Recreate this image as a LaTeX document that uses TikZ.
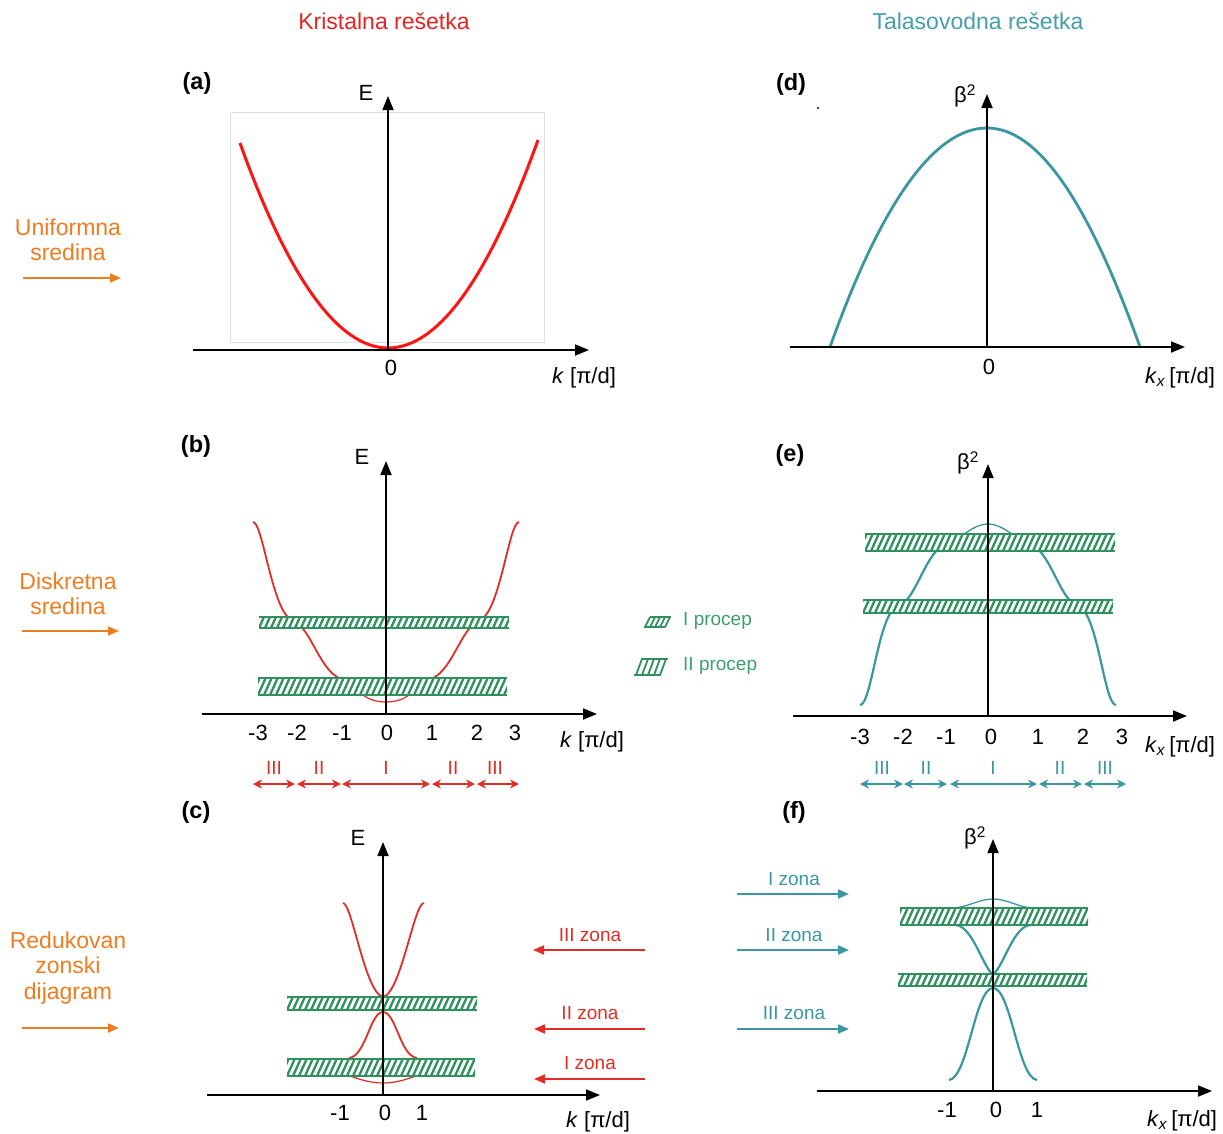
\documentclass[tikz,border=0pt]{standalone}
\usepackage{fontspec}
\setmainfont{Liberation Sans}
\usetikzlibrary{arrows.meta}
\definecolor{myred}{RGB}{224,45,38}
\definecolor{brightred}{RGB}{255,20,20}
\definecolor{titlered}{RGB}{226,38,38}
\definecolor{myteal}{RGB}{58,150,162}
\definecolor{titleteal}{RGB}{70,158,170}
\definecolor{mygreen}{RGB}{48,145,95}
\definecolor{lgreen}{RGB}{60,160,110}
\definecolor{myorange}{RGB}{238,125,34}

\newcommand{\hatchband}[4]{%
  \fill[white] (#1,#2) rectangle (#3,#4);
  \begin{scope}
    \clip (#1,#2) rectangle (#3,#4);
    \foreach \i in {0,...,50} {
      \pgfmathsetmacro{\xa}{#1-12+\i*6}
      \pgfmathsetmacro{\xb}{\xa+0.45*(#4-#2)}
      \draw[hatchline] (\xa,#4) -- (\xb,#2);
    }
  \end{scope}
  \draw[bandedge] (#1,#2) -- (#3,#2);
  \draw[bandedge] (#1,#4) -- (#3,#4);
}

\begin{document}
\begin{tikzpicture}[x=1pt,y=-1pt,
  axis/.style={line width=1.8pt,-{Triangle[length=14pt,width=11pt]}},
  redcurve/.style={draw=myred,line width=1.8pt},
  thinred/.style={draw=myred,line width=1.2pt},
  tealcurve/.style={draw=myteal,line width=2.2pt},
  thinteal/.style={draw=myteal,line width=1.3pt},
  hatchline/.style={draw=mygreen,line width=2.3pt},
  bandedge/.style={draw=mygreen,line width=2pt},
  lbl/.style={font=\fontsize{22}{26}\selectfont, inner sep=0pt},
  panel/.style={font=\bfseries\fontsize{23.5}{27}\selectfont, inner sep=0pt},
  title/.style={font=\fontsize{23}{27}\selectfont, inner sep=0pt},
  side/.style={font=\fontsize{23}{25.5}\selectfont, text=myorange, align=center, inner sep=0pt},
  sidearrow/.style={draw=myorange,line width=1.8pt,-{Triangle[length=11pt,width=9pt]}},
  zlbl/.style={font=\fontsize{19}{22}\selectfont, inner sep=0pt},
  zonered/.style={draw=myred,line width=1.7pt,{Stealth[length=9pt,width=9pt]}-{Stealth[length=9pt,width=9pt]}},
  zoneteal/.style={draw=myteal,line width=1.7pt,{Stealth[length=9pt,width=9pt]}-{Stealth[length=9pt,width=9pt]}},
  zarrowred/.style={draw=myred,line width=1.8pt,-{Triangle[length=11pt,width=9pt]}},
  zarrowteal/.style={draw=myteal,line width=1.8pt,-{Triangle[length=11pt,width=9pt]}}
]
\useasboundingbox (0,0) rectangle (1223,1133);
\fill[white] (0,0) rectangle (1223,1133);

% ---------- titles ----------
\node[title, text=titlered] (tK) at (384,21) {Kristalna rešetka};
\node[title, text=titleteal] (tT) at (978,21) {Talasovodna rešetka};

% ---------- side labels ----------
\node[side] (sU) at (68,240) {Uniformna\\sredina};
\coordinate (sUa) at (23,278); \coordinate (sUb) at (121,278);
\draw[sidearrow] (sUa) -- (sUb);
\node[side] (sD) at (68,594) {Diskretna\\sredina};
\coordinate (sDa) at (22,631); \coordinate (sDb) at (119,631);
\draw[sidearrow] (sDa) -- (sDb);
\node[side] (sR) at (68,968) {Redukovan\\zonski\\dijagram};
\coordinate (sRa) at (22,1028); \coordinate (sRb) at (119,1028);
\draw[sidearrow] (sRa) -- (sRb);

% ================= (a) =================
\node[panel] (pa) at (197,83) {(a)};
\draw[black!12, line width=0.8pt] (230,112) rectangle (544,342);
\draw[draw=brightred, line width=3pt] (240,143) .. controls (289,280) and (339,348) .. (388,348)
  .. controls (438,348) and (488,279) .. (538,140);
\coordinate (aL) at (193,350); \coordinate (aR) at (589,350);
\coordinate (aB) at (388,350); \coordinate (aT) at (388,96);
\draw[axis] (aL) -- (aR);
\draw[axis] (aB) -- (aT);
\node[lbl] (aE) at (366,93) {E};
\node[lbl] (a0) at (391,368) {0};
\node[lbl] (ak) at (584,378) {\textit{k} [π/d]};

% ================= (d) =================
\node[panel] (pd) at (791,84) {(d)};
\fill[black] (818,108) circle (1.1);
\draw[tealcurve, line width=2.8pt] (830,347) .. controls (882,201) and (935,128) .. (987,128)
  .. controls (1038,128) and (1088,201) .. (1140,347);
\coordinate (dL) at (790,347); \coordinate (dR) at (1185,347);
\coordinate (dB) at (987,347); \coordinate (dT) at (987,94);
\draw[axis] (dL) -- (dR);
\draw[axis] (dB) -- (dT);
\node[lbl] (dbeta) at (965,96) {β\textsuperscript{2}};
\node[lbl] (d0) at (989,367) {0};
\node[lbl] (dk) at (1180,378) {\textit{k}\textsubscript{\textit{x}}\,[π/d]};

% ================= (b) =================
\node[panel] (pb) at (196,446) {(b)};
\draw[redcurve] (253,522) .. controls (263,522) and (272,612) .. (292,620)
  .. controls (312,627) and (320,676) .. (345,680);
\draw[thinred] (345,680) .. controls (358,690) and (365,702) .. (386,702)
  .. controls (407,702) and (414,690) .. (427,680);
\draw[redcurve] (427,680) .. controls (452,676) and (460,627) .. (480,620)
  .. controls (500,612) and (509,522) .. (519,522);
\hatchband{259}{617}{509}{628}
\hatchband{258}{678}{507}{695}
\coordinate (bL) at (202,714); \coordinate (bR) at (597,714);
\coordinate (bB) at (386,714); \coordinate (bT) at (386,461);
\draw[axis] (bL) -- (bR);
\draw[axis] (bB) -- (bT);
\node[lbl] (bE) at (362,457) {E};
\node[lbl] (bm3) at (258,733) {-3};
\node[lbl] (bm2) at (297,733) {-2};
\node[lbl] (bm1) at (342,733) {-1};
\node[lbl] (b0) at (387,733) {0};
\node[lbl] (b1) at (432,733) {1};
\node[lbl] (b2) at (477,733) {2};
\node[lbl] (b3) at (515,733) {3};
\node[lbl] (bk) at (592,742) {\textit{k} [π/d]};
% zones
\foreach \xa/\xb/\nm in {253/295/ba, 297/341/bb, 342/430/bc, 432/475/bd, 477/519/be} {
  \coordinate (\nm1) at (\xa,784); \coordinate (\nm2) at (\xb,784);
  \draw[zonered] (\nm1) -- (\nm2);
}
\node[zlbl, text=myred] (bz1) at (274,768) {III};
\node[zlbl, text=myred] (bz2) at (319,768) {II};
\node[zlbl, text=myred] (bz3) at (386,768) {I};
\node[zlbl, text=myred] (bz4) at (453,768) {II};
\node[zlbl, text=myred] (bz5) at (495,768) {III};

% legend
\begin{scope}
  \draw[bandedge, line width=1.8pt] (650,617) -- (671,617);
  \draw[bandedge, line width=1.8pt] (644,627) -- (665,627);
  \foreach \i in {0,...,4} \draw[hatchline, line width=1.8pt] ({645+\i*5},627) -- ({650+\i*5},617);
  \draw[bandedge, line width=1.8pt] (641,659) -- (668,659);
  \draw[bandedge, line width=1.8pt] (634,675) -- (661,675);
  \foreach \i in {0,...,4} \draw[hatchline, line width=1.8pt] ({636+\i*6},675) -- ({642+\i*6},659);
\end{scope}
\node[zlbl, text=lgreen, anchor=west] (lg1) at (683,621) {I procep};
\node[zlbl, text=lgreen, anchor=west] (lg2) at (683,666) {II procep};

% ================= (e) =================
\node[panel] (pe) at (790,455) {(e)};
\draw[tealcurve] (860,705) .. controls (872,705) and (878,612) .. (898,606)
  .. controls (916,602) and (926,548) .. (948,543);
\draw[thinteal] (948,543) .. controls (960,540) and (972,524) .. (988,524)
  .. controls (1004,524) and (1016,540) .. (1028,543);
\draw[tealcurve] (1028,543) .. controls (1050,548) and (1060,602) .. (1078,606)
  .. controls (1098,612) and (1104,705) .. (1116,705);
\hatchband{865}{534}{1115}{551}
\hatchband{863}{600}{1113}{613}
\coordinate (eL) at (793,716); \coordinate (eR) at (1187,716);
\coordinate (eB) at (988,716); \coordinate (eT) at (988,464);
\draw[axis] (eL) -- (eR);
\draw[axis] (eB) -- (eT);
\node[lbl] (ebeta) at (968,463) {β\textsuperscript{2}};
\node[lbl] (em3) at (860,737) {-3};
\node[lbl] (em2) at (903,737) {-2};
\node[lbl] (em1) at (946,737) {-1};
\node[lbl] (e0) at (991,737) {0};
\node[lbl] (e1) at (1038,737) {1};
\node[lbl] (e2) at (1083,737) {2};
\node[lbl] (e3) at (1122,737) {3};
\node[lbl] (ek) at (1180,747) {\textit{k}\textsubscript{\textit{x}}\,[π/d]};
\foreach \xa/\xb/\nm in {860/903/ea, 904/947/eb, 950/1037/ec, 1039/1082/ed, 1084/1126/ee} {
  \coordinate (\nm1) at (\xa,784); \coordinate (\nm2) at (\xb,784);
  \draw[zoneteal] (\nm1) -- (\nm2);
}
\node[zlbl, text=myteal] (ez1) at (882,768) {III};
\node[zlbl, text=myteal] (ez2) at (926,768) {II};
\node[zlbl, text=myteal] (ez3) at (993,768) {I};
\node[zlbl, text=myteal] (ez4) at (1060,768) {II};
\node[zlbl, text=myteal] (ez5) at (1105,768) {III};

% ================= (c) =================
\node[panel] (pc) at (196,812) {(c)};
\draw[redcurve] (343,903) .. controls (352,903) and (365,993) .. (383,997)
  .. controls (401,993) and (414,903) .. (424,903);
\draw[redcurve] (349,1058) .. controls (366,1056) and (370,1012) .. (383,1012)
  .. controls (396,1012) and (400,1056) .. (417,1058);
\draw[thinred] (340,1072) .. controls (355,1078) and (368,1083) .. (383,1083)
  .. controls (398,1083) and (411,1078) .. (426,1072);
\hatchband{287}{997}{477}{1010}
\hatchband{287}{1059}{475}{1076}
\coordinate (cL) at (207,1095); \coordinate (cR) at (600,1095);
\coordinate (cB) at (383,1095); \coordinate (cT) at (383,842);
\draw[axis] (cL) -- (cR);
\draw[axis] (cB) -- (cT);
\node[lbl] (cE) at (358,838) {E};
\node[lbl] (cm1) at (340,1113) {-1};
\node[lbl] (c0) at (385,1113) {0};
\node[lbl] (c1) at (422,1113) {1};
\node[lbl] (ck) at (598,1122) {\textit{k} [π/d]};
\node[zlbl, text=myred] (cz3) at (590,935) {III zona};
\node[zlbl, text=myred] (cz2) at (590,1013) {II zona};
\node[zlbl, text=myred] (cz1) at (590,1063) {I zona};
\coordinate (cz3a) at (645,950); \coordinate (cz3b) at (533,950);
\coordinate (cz2a) at (645,1029); \coordinate (cz2b) at (534,1029);
\coordinate (cz1a) at (645,1079); \coordinate (cz1b) at (534,1079);
\draw[zarrowred] (cz3a) -- (cz3b);
\draw[zarrowred] (cz2a) -- (cz2b);
\draw[zarrowred] (cz1a) -- (cz1b);

% ================= (f) =================
\node[panel] (pf) at (794,812) {(f)};
\draw[thinteal] (955,908) .. controls (970,906) and (980,899) .. (993,899)
  .. controls (1006,899) and (1016,906) .. (1031,908);
\draw[tealcurve] (955,925) .. controls (972,925) and (982,965) .. (993,975)
  .. controls (1004,965) and (1014,925) .. (1031,925);
\draw[tealcurve] (949,1080) .. controls (968,1078) and (975,988) .. (993,988)
  .. controls (1011,988) and (1018,1078) .. (1037,1080);
\hatchband{900}{908}{1088}{925}
\hatchband{898}{974}{1087}{986}
\coordinate (fL) at (817,1091); \coordinate (fR) at (1212,1091);
\coordinate (fB) at (993,1091); \coordinate (fT) at (993,839);
\draw[axis] (fL) -- (fR);
\draw[axis] (fB) -- (fT);
\node[lbl] (fbeta) at (975,838) {β\textsuperscript{2}};
\node[lbl] (fm1) at (947,1110) {-1};
\node[lbl] (f0) at (996,1110) {0};
\node[lbl] (f1) at (1037,1110) {1};
\node[lbl] (fk) at (1182,1121) {\textit{k}\textsubscript{\textit{x}}\,[π/d]};
\node[zlbl, text=myteal] (fz1) at (794,879) {I zona};
\node[zlbl, text=myteal] (fz2) at (794,935) {II zona};
\node[zlbl, text=myteal] (fz3) at (794,1013) {III zona};
\coordinate (fz1a) at (737,894); \coordinate (fz1b) at (849,894);
\coordinate (fz2a) at (737,950); \coordinate (fz2b) at (849,950);
\coordinate (fz3a) at (737,1029); \coordinate (fz3b) at (849,1029);
\draw[zarrowteal] (fz1a) -- (fz1b);
\draw[zarrowteal] (fz2a) -- (fz2b);
\draw[zarrowteal] (fz3a) -- (fz3b);
\end{tikzpicture}
\end{document}
